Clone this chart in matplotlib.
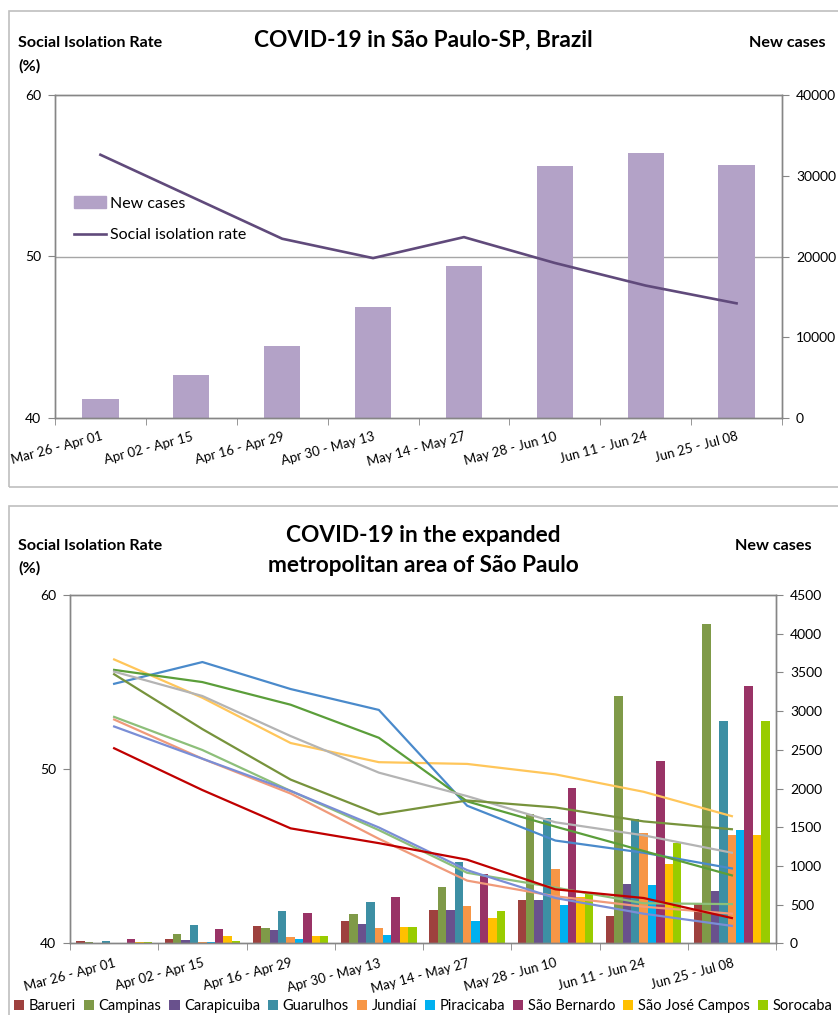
import numpy as np
import matplotlib.pyplot as plt
from matplotlib.patches import Rectangle, Patch
from matplotlib.lines import Line2D

plt.rcParams['font.family'] = ['Lato', 'DejaVu Sans']

weeks = ['Mar 26 - Apr 01', 'Apr 02 - Apr 15', 'Apr 16 - Apr 29', 'Apr 30 - May 13',
         'May 14 - May 27', 'May 28 - Jun 10', 'Jun 11 - Jun 24', 'Jun 25 - Jul 08']

# top chart: city of Sao Paulo
sp_cases = [2400, 5300, 8900, 13800, 18800, 31200, 32800, 31300]
sp_isolation = [56.3, 53.7, 51.1, 49.9, 51.2, 49.6, 48.2, 47.1]

# bottom chart: new cases per city
cities = ['Barueri', 'Campinas', 'Carapicuiba', 'Guarulhos', 'Jundiaí',
          'Piracicaba', 'São Bernardo', 'São José Campos', 'Sorocaba']
city_colors = ['#9E413E', '#7F9A48', '#69518D', '#3D8FA4', '#F79646',
               '#00B0F0', '#993366', '#FFC000', '#99CC00']
barueri = [30, 50, 220, 285, 430, 560, 355, 525]
campinas = [20, 120, 200, 385, 725, 1665, 3200, 4130]
carapicuiba = [10, 40, 170, 245, 425, 560, 760, 675]
guarulhos = [35, 230, 420, 530, 1050, 1615, 1610, 2875]
jundiai = [10, 17, 80, 200, 485, 960, 1420, 1395]
piracicaba = [10, 13, 55, 105, 285, 490, 750, 1460]
sao_bernardo = [60, 180, 390, 600, 890, 2010, 2355, 3320]
sao_jose = [13, 100, 90, 205, 325, 600, 1020, 1395]
sorocaba = [13, 30, 90, 205, 415, 660, 1300, 2875]
city_cases = [barueri, campinas, carapicuiba, guarulhos, jundiai,
              piracicaba, sao_bernardo, sao_jose, sorocaba]

# social isolation lines (bottom chart), by line colour
iso_yellow = [56.3, 54.1, 51.5, 50.4, 50.3, 49.7, 48.7, 47.3]
iso_blue = [54.9, 56.15, 54.6, 53.4, 47.9, 45.9, 45.2, 44.3]
iso_green = [55.7, 55.0, 53.7, 51.8, 48.15, 46.7, 45.3, 43.9]
iso_grey = [55.6, 54.2, 51.9, 49.8, 48.45, 46.95, 46.2, 45.2]
iso_olive = [55.45, 52.3, 49.4, 47.4, 48.2, 47.8, 47.0, 46.55]
iso_lightgreen = [53.0, 51.1, 48.75, 46.5, 44.05, 43.2, 42.3, 42.25]
iso_salmon = [52.85, 50.6, 48.6, 46.0, 43.6, 42.7, 42.1, 41.7]
iso_periwinkle = [52.45, 50.6, 48.75, 46.65, 44.2, 42.6, 41.7, 41.0]
iso_red = [51.2, 48.8, 46.6, 45.75, 44.8, 43.1, 42.6, 41.45]
iso_lines = [(iso_yellow, '#FFC65A'), (iso_blue, '#4A8ACB'), (iso_green, '#5B9E3A'),
             (iso_grey, '#B4B4B4'), (iso_olive, '#77933C'), (iso_lightgreen, '#8DBF7A'),
             (iso_salmon, '#F09A7A'), (iso_periwinkle, '#7A8ED6'), (iso_red, '#C00000')]

W, H = 838, 1015
fig = plt.figure(figsize=(W / 100, H / 100), dpi=100)
axis_grey = '#868686'
tick_fs = 10
xlab_fs = 9.5
title_fs = 16.3
head_fs = 11.6


def px_rect(left, top, right, bottom):
    return [left / W, 1 - bottom / H, (right - left) / W, (bottom - top) / H]


def style_axes(ax_c, ax_r, label_pad):
    x = np.arange(len(weeks))
    ax_c.set_xlim(-0.5, len(weeks) - 0.5)
    ax_c.set_xticks(x)
    ax_c.set_xticklabels(weeks, rotation=15, ha='right', va='top', rotation_mode='anchor',
                         fontsize=xlab_fs)
    ax_c.set_xticks(np.arange(len(weeks) + 1) - 0.5, minor=True)
    ax_c.tick_params(axis='x', which='major', length=0, pad=label_pad)
    ax_c.tick_params(axis='x', which='minor', length=5, color=axis_grey, direction='out')
    ax_c.yaxis.tick_right()
    ax_c.tick_params(axis='y', length=5, color=axis_grey, direction='out', labelsize=tick_fs, pad=5)
    ax_r.yaxis.tick_left()
    ax_r.tick_params(axis='y', length=5, color=axis_grey, direction='out', labelsize=tick_fs, pad=5)
    for a in (ax_c, ax_r):
        for s in a.spines.values():
            s.set_color(axis_grey)
            s.set_linewidth(1.0)
    ax_c.set_zorder(1)
    ax_r.set_zorder(2)
    ax_r.patch.set_visible(False)


# ---------- top chart ----------
ax1 = fig.add_axes(px_rect(55, 95, 782, 418))
ax1r = ax1.twinx()
x = np.arange(len(weeks))
ax1.axhline(20000, color='#A6A6A6', lw=1.0, zorder=0)
bars = ax1.bar(x, sp_cases, width=0.4, color='#B3A2C7', zorder=2)
ax1.set_ylim(0, 40000)
ax1.set_yticks(np.arange(0, 40001, 10000))
line, = ax1r.plot(x, sp_isolation, color='#604A7B', lw=1.9)
ax1r.set_ylim(40, 60)
ax1r.set_yticks([40, 50, 60])
style_axes(ax1, ax1r, 9)
ax1r.legend([Patch(color='#B3A2C7'), Line2D([0], [0], color='#604A7B', lw=1.9)],
            ['New cases', 'Social isolation rate'], loc='upper left',
            bbox_to_anchor=(68 / W, 1 - 190 / H), bbox_transform=fig.transFigure,
            frameon=False, fontsize=11.5, handlelength=2.0, handleheight=0.7,
            handletextpad=0.25, labelspacing=1.1, borderaxespad=0)

fig.text(423 / W, 1 - 40 / H, 'COVID-19 in São Paulo-SP, Brazil', ha='center', va='center',
         fontsize=title_fs, fontweight='bold')
fig.text(18 / W, 1 - 43 / H, 'Social Isolation Rate', ha='left', va='center',
         fontsize=head_fs, fontweight='bold')
fig.text(18 / W, 1 - 66 / H, '(%)', ha='left', va='center', fontsize=head_fs, fontweight='bold')
fig.text(826 / W, 1 - 43 / H, 'New cases', ha='right', va='center', fontsize=head_fs,
         fontweight='bold')

# ---------- bottom chart ----------
ax2 = fig.add_axes(px_rect(70, 595, 776, 943.3))
ax2r = ax2.twinx()
bw = 1 / 10.5
for i, (vals, col, name) in enumerate(zip(city_cases, city_colors, cities)):
    ax2.bar(x + (i - 4) * bw, vals, width=bw, color=col, label=name, zorder=2)
ax2.set_ylim(0, 4500)
ax2.set_yticks(np.arange(0, 4501, 500))
for vals, col in iso_lines:
    ax2r.plot(x, vals, color=col, lw=1.6)
ax2r.set_ylim(40, 60)
ax2r.set_yticks([40, 50, 60])
style_axes(ax2, ax2r, 10)

fig.text(423 / W, 1 - 535 / H, 'COVID-19 in the expanded', ha='center', va='center',
         fontsize=title_fs, fontweight='bold')
fig.text(423 / W, 1 - 566 / H, 'metropolitan area of São Paulo', ha='center', va='center',
         fontsize=title_fs, fontweight='bold')
fig.text(18 / W, 1 - 546 / H, 'Social Isolation Rate', ha='left', va='center',
         fontsize=head_fs, fontweight='bold')
fig.text(18 / W, 1 - 568 / H, '(%)', ha='left', va='center', fontsize=head_fs, fontweight='bold')
fig.text(812 / W, 1 - 546 / H, 'New cases', ha='right', va='center', fontsize=head_fs,
         fontweight='bold')

h, l = ax2.get_legend_handles_labels()
fig.legend(h, l, loc='center left', bbox_to_anchor=(14 / W, 1 - 1006 / H), ncol=9,
           frameon=False, fontsize=10.5, handlelength=0.7, handleheight=0.7,
           handletextpad=0.3, columnspacing=0.55, borderaxespad=0, borderpad=0)

# panel borders
for top, bottom in [(11, 487), (506, 1030)]:
    fig.patches.append(Rectangle((8.5 / W, 1 - bottom / H), (W + 20) / W, (bottom - top) / H,
                                 transform=fig.transFigure, fill=False,
                                 edgecolor='#BFBFBF', lw=1.2))

fig.savefig('out.png', dpi=100)
